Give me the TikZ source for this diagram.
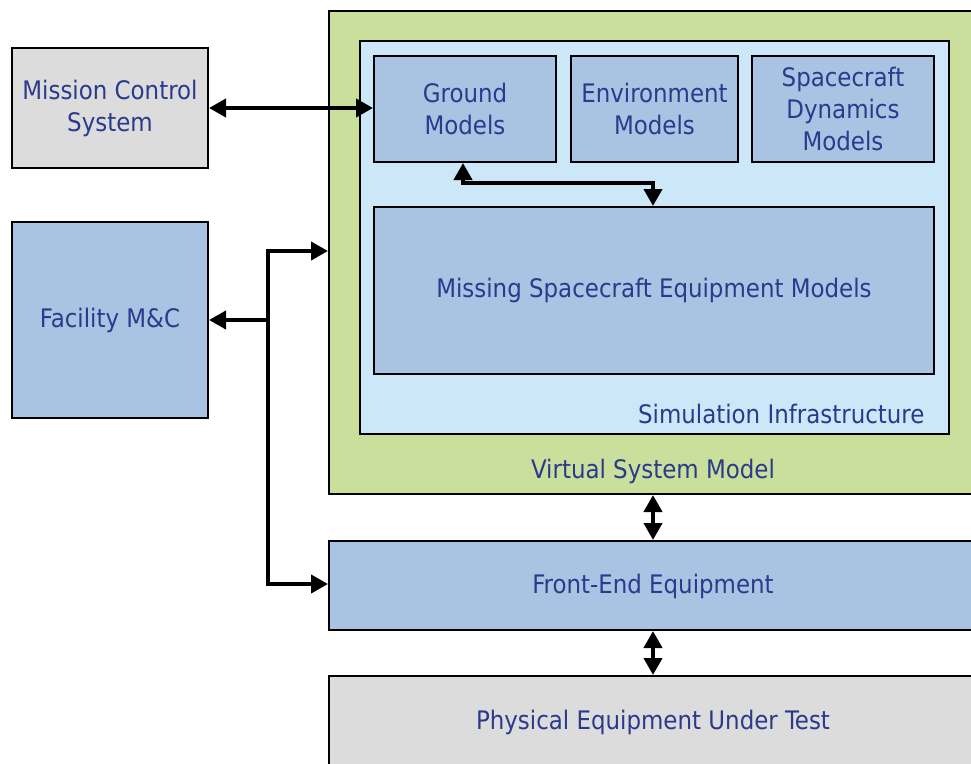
\documentclass[tikz,border=0pt]{standalone}
\usepackage{fontspec}
\setmainfont{DejaVu Sans Condensed}
\usetikzlibrary{arrows.meta}
\definecolor{txt}{HTML}{2B3A8C}
\definecolor{vgreen}{HTML}{CBDF9D}
\definecolor{lblue}{HTML}{CCE8F8}
\definecolor{mblue}{HTML}{A8C4E2}
\definecolor{lgray}{HTML}{DCDCDC}
\tikzset{
  lbl/.style={text=txt, align=center, font=\fontsize{25.5}{32}\selectfont},
  box/.style={draw=black, line width=2pt, inner sep=0pt, lbl},
  conn/.style={line width=4pt, {Triangle[length=17pt,width=18pt]}-{Triangle[length=17pt,width=18pt]}},
  oneway/.style={line width=4pt, -{Triangle[length=17pt,width=18pt]}},
}
\begin{document}
\begin{tikzpicture}[x=1pt,y=1pt]
\useasboundingbox (0,0) rectangle (971,-763);
% virtual system model
\node[box, fill=vgreen, minimum width=660, minimum height=483, anchor=north west] (vsm) at (328,-10) {};
\node[lbl] (vsmlbl) at (653,-471) {Virtual System Model};
% simulation infrastructure
\node[box, fill=lblue, minimum width=589, minimum height=393, anchor=north west] (sim) at (359,-40) {};
\node[lbl, anchor=east] (simlbl) at (928,-414) {Simulation Infrastructure};
% model boxes
\node[box, fill=mblue, minimum width=182, minimum height=106, anchor=north west] (ground) at (373,-55) {Ground\\Models};
\node[box, fill=mblue, minimum width=167, minimum height=106, anchor=north west] (env) at (570,-55) {Environment\\Models};
\node[box, fill=mblue, minimum width=182, minimum height=106, anchor=north west] (dyn) at (751,-55) {Spacecraft\\Dynamics\\Models};
\node[box, fill=mblue, minimum width=560, minimum height=167, anchor=north west] (miss) at (373,-206) {Missing Spacecraft Equipment Models};
% left boxes
\node[box, fill=lgray, minimum width=196, minimum height=120, anchor=north west] (mcs) at (11,-47) {Mission Control\\System};
\node[box, fill=mblue, minimum width=196, minimum height=196, anchor=north west] (fac) at (11,-221) {Facility M\&C};
% bottom boxes
\node[box, fill=mblue, minimum width=660, minimum height=89, anchor=north west] (fe) at (328,-540) {};
\node[lbl] (felbl) at (653,-586) {Front-End Equipment};
\node[box, fill=lgray, minimum width=660, minimum height=100, anchor=north west] (pe) at (328,-675) {};
\node[lbl] (pelbl) at (653,-722) {Physical Equipment Under Test};
% connectors
\draw[conn] (mcs.east |- 0,-108) -- (ground.west |- 0,-108);
\coordinate (j) at (268,-320);
\coordinate (jt) at (268,-251);
\coordinate (jb) at (268,-584);
\draw[oneway] (j) -- (fac.east |- j);
\draw[oneway] (j) -- (jt) -- (vsm.west |- jt);
\draw[oneway] (j) -- (jb) -- (fe.west |- jb);
\coordinate (g1) at (463,-183);
\coordinate (g2) at (653,-183);
\draw[conn, line join=miter] (ground.south -| g1) -- (g1) -- (g2) -- (miss.north -| g2);
\draw[conn] (vsm.south -| 653,0) -- (fe.north -| 653,0);
\draw[conn] (fe.south -| 653,0) -- (pe.north -| 653,0);
\end{tikzpicture}
\end{document}
